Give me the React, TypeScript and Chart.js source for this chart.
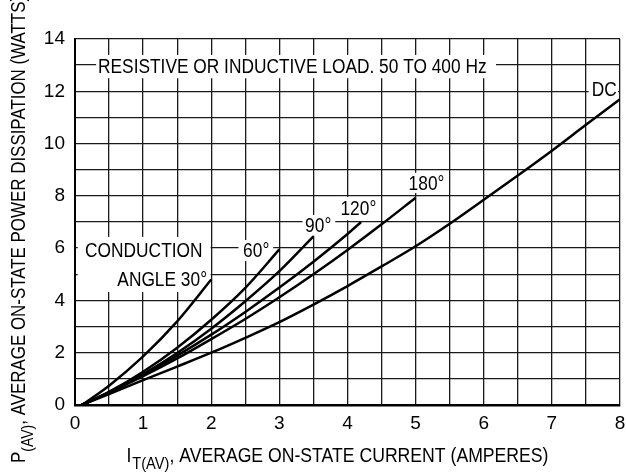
import React, { useEffect, useRef } from "react";
import { Chart, registerables } from "chart.js";

Chart.register(...registerables);

// ---- data ----
const xTickValues = [0, 1, 2, 3, 4, 5, 6, 7, 8];
const yTickValues = [0, 2, 4, 6, 8, 10, 12, 14];

const dcX = [0.1, 0.5, 1, 1.5, 2, 2.5, 3, 3.5, 4, 4.5, 5, 5.5, 6, 6.5, 7, 7.5, 8];
const dcY = [0, 0.42, 0.95, 1.47, 2.0, 2.57, 3.17, 3.84, 4.55, 5.3, 6.07, 6.93, 7.85, 8.78, 9.73, 10.72, 11.7];

const deg180X = [0.1, 0.5, 1, 1.5, 2, 2.5, 3, 3.5, 4, 4.5, 5];
const deg180Y = [0, 0.47, 1.1, 1.78, 2.52, 3.29, 4.12, 5.0, 5.93, 6.91, 7.93];

const deg120X = [0.1, 0.5, 1, 1.5, 2, 2.5, 3, 3.5, 4, 4.2];
const deg120Y = [0, 0.49, 1.16, 1.89, 2.69, 3.56, 4.49, 5.48, 6.54, 7.0];

const deg90X = [0.1, 0.5, 1, 1.5, 2, 2.5, 3, 3.5];
const deg90Y = [0, 0.48, 1.18, 1.99, 2.92, 3.97, 5.12, 6.45];

const deg60X = [0.1, 0.5, 1, 1.5, 2, 2.5, 3];
const deg60Y = [0, 0.5, 1.27, 2.19, 3.26, 4.48, 5.95];

const deg30X = [0.1, 0.5, 1, 1.5, 2];
const deg30Y = [0, 0.74, 1.86, 3.2, 4.8];

const seriesNames = ["DC", "180°", "120°", "90°", "60°", "30°"];

// ---- annotation texts (data-coordinate anchors) ----
const noteTexts = [
  ["RESISTIVE OR INDUCTIVE LOAD. 50 TO 400 Hz"],
  ["DC"],
  ["180°"],
  ["120°"],
  ["90°"],
  ["60°"],
  ["CONDUCTION", "ANGLE 30°"],
];
// text centres [x, y] per line
const noteAnchors = [
  [[3.19, 12.97]],
  [[7.77, 12.07]],
  [[5.16, 8.49]],
  [[4.16, 7.52]],
  [[3.57, 6.87]],
  [[2.66, 5.91]],
  [[1.01, 5.91], [1.28, 4.8]],
];
// white boxes [x0, x1, yTop, yBottom]
const noteBoxes = [
  [0.31, 6.18, 13.39, 12.5],
  [7.54, 7.97, 12.47, 11.67],
  [4.86, 5.47, 8.88, 8.11],
  [3.84, 4.49, 7.96, 7.07],
  [3.34, 3.82, 7.27, 6.48],
  [2.4, 2.91, 6.31, 5.51],
  [0.04, 1.99, 6.43, 4.32],
];

const FAMILY = '"Liberation Sans", Arial, sans-serif';
const BIG = 20.5; // drawn size for condensed text
const SQUEEZE = 0.845; // horizontal condensing factor for notes
const TITLE_SQUEEZE = 0.86;
const YTITLE_SQUEEZE = 0.825;
const TICK_SIZE = 19;

export default function App() {
  const ref = useRef<HTMLCanvasElement | null>(null);

  useEffect(() => {
    const canvas = ref.current;
    if (!canvas) return;
    const mainFont = `${BIG}px ${FAMILY}`;
    const subFont = `${Math.round(BIG * 0.85)}px ${FAMILY}`;

    const mk = (xs: number[], ys: number[]) => xs.map((x, i) => ({ x, y: ys[i] }));
    const all = [
      mk(dcX, dcY),
      mk(deg180X, deg180Y),
      mk(deg120X, deg120Y),
      mk(deg90X, deg90Y),
      mk(deg60X, deg60Y),
      mk(deg30X, deg30Y),
    ];

    // draw condensed text, centred at (cx, cy)
    const narrowText = (ctx: any, t: string, cx: number, cy: number) => {
      ctx.save();
      ctx.translate(cx, cy);
      ctx.scale(SQUEEZE, 1);
      ctx.fillText(t, 0, 0);
      ctx.restore();
    };

    const notesPlugin = {
      id: "notes",
      beforeDatasetsDraw(chart: any) {
        const ctx = chart.ctx;
        const xs = chart.scales.x;
        const ys = chart.scales.y;
        ctx.save();
        ctx.fillStyle = "#fff";
        noteBoxes.forEach((b) => {
          const x0 = xs.getPixelForValue(b[0]);
          const x1 = xs.getPixelForValue(b[1]);
          const y0 = ys.getPixelForValue(b[2]);
          const y1 = ys.getPixelForValue(b[3]);
          ctx.fillRect(x0, y0, x1 - x0, y1 - y0);
        });
        ctx.fillStyle = "#000";
        ctx.font = mainFont;
        ctx.textAlign = "center";
        ctx.textBaseline = "middle";
        noteTexts.forEach((lines, i) => {
          lines.forEach((t, j) => {
            const a = noteAnchors[i][j];
            narrowText(ctx, t, xs.getPixelForValue(a[0]), ys.getPixelForValue(a[1]) + 1);
          });
        });
        ctx.restore();
      },
    };

    const titlesPlugin = {
      id: "titles",
      afterDraw(chart: any) {
        const ctx = chart.ctx;
        ctx.save();
        ctx.fillStyle = "#000";
        ctx.textAlign = "left";
        ctx.textBaseline = "alphabetic";
        // x axis title
        const xa = "I", xb = "T(AV)", xc = ", AVERAGE ON-STATE CURRENT (AMPERES)";
        ctx.font = mainFont;
        const wa = ctx.measureText(xa).width;
        const wc = ctx.measureText(xc).width;
        ctx.font = subFont;
        const wb = ctx.measureText(xb).width;
        const totalX = wa + 1 + wb + wc;
        ctx.save();
        ctx.translate(337.5 - (totalX * TITLE_SQUEEZE) / 2, 462);
        ctx.scale(TITLE_SQUEEZE, 1);
        let x = 0;
        ctx.font = mainFont;
        ctx.fillText(xa, x, 0);
        x += wa + 1;
        ctx.font = subFont;
        ctx.fillText(xb, x, 7);
        x += wb;
        ctx.font = mainFont;
        ctx.fillText(xc, x, 0);
        ctx.restore();

        // y axis title (rotated)
        const ya = "P", yb2 = "(AV)", yc = ", AVERAGE ON-STATE POWER DISSIPATION (WATTS)";
        ctx.font = mainFont;
        const va = ctx.measureText(ya).width;
        ctx.font = subFont;
        const vb = ctx.measureText(yb2).width;
        ctx.save();
        ctx.translate(25, 463);
        ctx.rotate(-Math.PI / 2);
        ctx.scale(YTITLE_SQUEEZE, 1);
        let p = 0;
        ctx.font = mainFont;
        ctx.fillText(ya, p, 0);
        p += va;
        ctx.font = subFont;
        ctx.fillText(yb2, p, 8);
        p += vb;
        ctx.font = mainFont;
        ctx.fillText(yc, p, 0);
        ctx.restore();
        ctx.restore();
      },
    };

    const chart = new Chart(canvas, {
      type: "line",
      data: {
        datasets: all.map((d, i) => ({
          label: seriesNames[i],
          data: d,
          borderColor: "#000",
          backgroundColor: "#000",
          borderWidth: 2.5,
          pointRadius: 0,
          tension: 0.4,
          cubicInterpolationMode: "monotone" as const,
          fill: false,
        })),
      },
      options: {
        animation: false,
        responsive: false,
        devicePixelRatio: 1,
        parsing: false as any,
        layout: { padding: { top: 39, right: 6, left: 0, bottom: 0 } },
        plugins: {
          legend: { display: false },
          tooltip: { enabled: false },
          title: { display: false },
        },
        scales: {
          x: {
            type: "linear",
            min: 0,
            max: 8,
            afterFit: (s: any) => {
              s.height = 70;
              s.paddingRight = 0;
              s.paddingLeft = 0;
            },
            afterBuildTicks: (s: any) => {
              const t: any[] = [];
              for (let v = 0; v <= 16; v++) t.push({ value: v / 2 });
              s.ticks = t;
            },
            ticks: {
              autoSkip: false,
              maxRotation: 0,
              padding: 7,
              color: "#000",
              font: { family: FAMILY, size: TICK_SIZE },
              callback: (v: any) => (xTickValues.includes(Number(v)) ? String(v) : ""),
            },
            grid: { color: "#1a1a1a", lineWidth: 1.3, drawTicks: false },
            border: { color: "#000", width: 2.5 },
          },
          y: {
            type: "linear",
            min: 0,
            max: 14,
            afterFit: (s: any) => {
              s.width = 75;
              s.paddingTop = 0;
              s.paddingBottom = 0;
            },
            afterBuildTicks: (s: any) => {
              const t: any[] = [];
              for (let v = 0; v <= 14; v++) t.push({ value: v });
              s.ticks = t;
            },
            ticks: {
              autoSkip: false,
              padding: 10,
              color: "#000",
              font: { family: FAMILY, size: TICK_SIZE },
              callback: (v: any) => (yTickValues.includes(Number(v)) ? String(v) : ""),
            },
            grid: { color: "#1a1a1a", lineWidth: 1.3, drawTicks: false },
            border: { color: "#000", width: 2 },
          },
        },
      },
      plugins: [notesPlugin, titlesPlugin],
    });

    return () => chart.destroy();
  }, []);

  return (
    <div style={{ position: "fixed", left: 0, top: 0, width: 626, height: 475, background: "#fff" }}>
      <canvas ref={ref} width={626} height={475} style={{ display: "block" }} />
    </div>
  );
}
